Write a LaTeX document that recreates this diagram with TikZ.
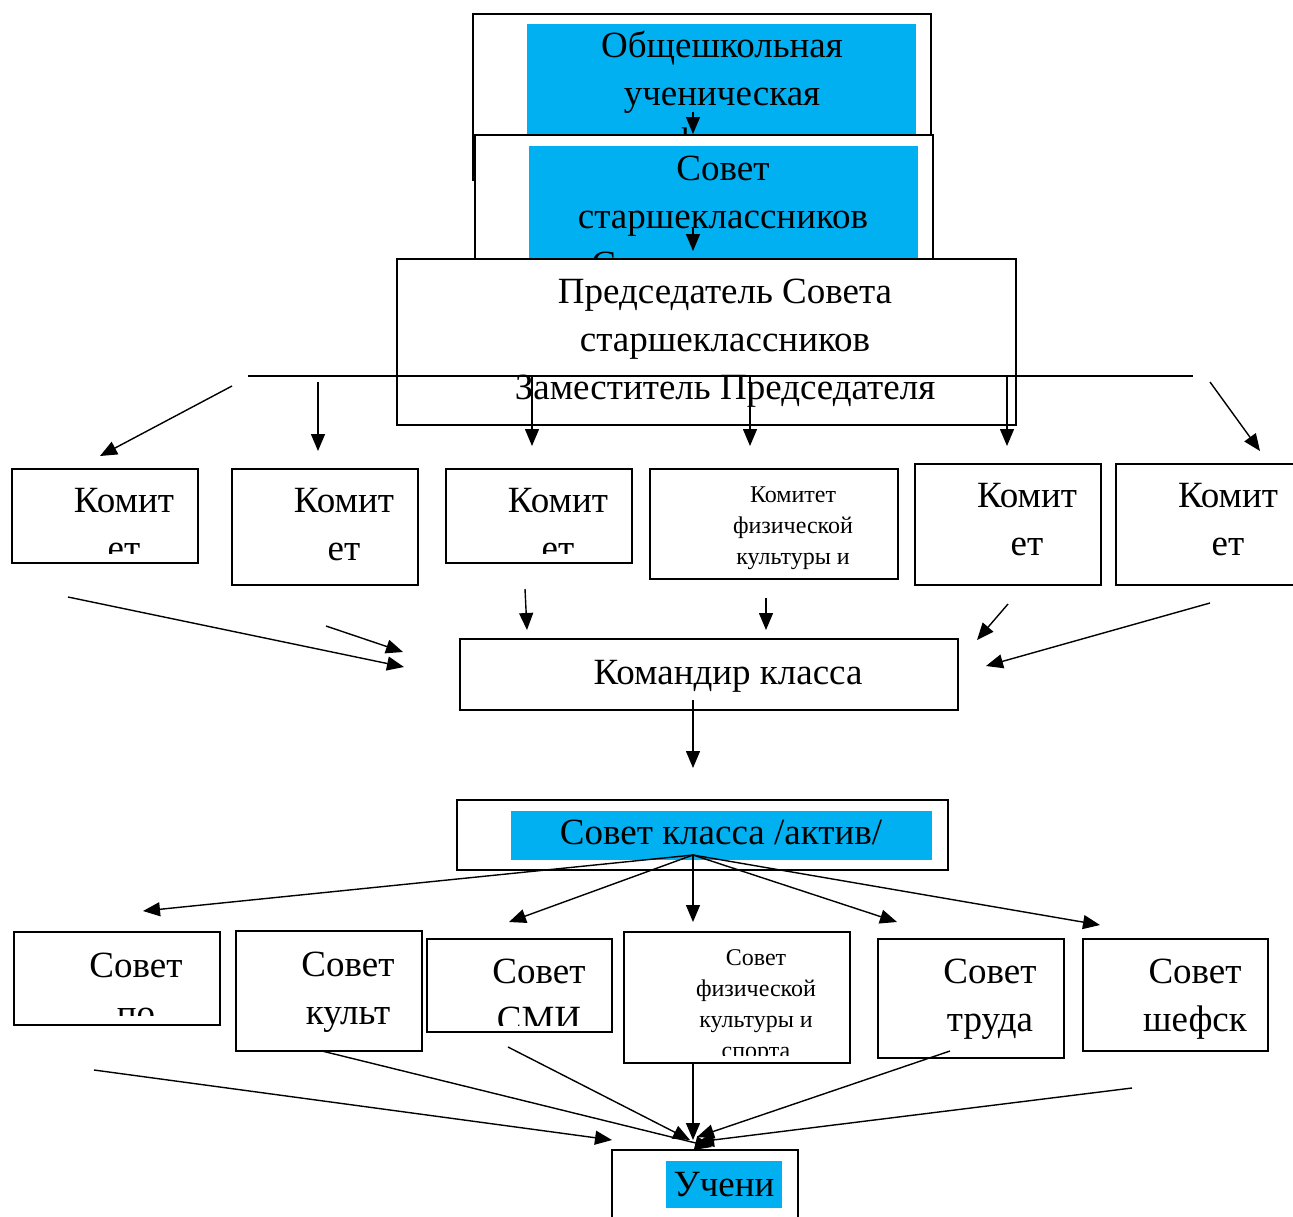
\documentclass[tikz,border=0pt]{standalone}
\usepackage{fontspec}
\setmainfont{Liberation Serif}
\usetikzlibrary{arrows.meta,fit}
\definecolor{barblue}{RGB}{0,176,240}
\tikzset{
  box/.style={draw,line width=1.4pt,fill=white,inner sep=0pt},
  bar/.style={fill=barblue,inner sep=0pt},
  big/.style={anchor=base,inner sep=0pt,font=\fontsize{37}{48}\selectfont},
  small/.style={anchor=base,inner sep=0pt,font=\fontsize{24}{31}\selectfont},
  arr/.style={line width=1.4pt,-{Triangle[length=17pt,width=14pt]}}
}
\begin{document}
\begin{tikzpicture}[x=1pt,y=-1pt]
  \useasboundingbox [fill=white] (0,0) rectangle (1293,1216);
  % top block
  \node [box,fit={(473,14) (931,180)}] (obsh) {};
  \node [bar,fit={(527,24) (916,135)}] (obshbar) {};
  \node [big] (obsh1) at (722,57) {Общешкольная};
  \node [big] (obsh2) at (722,105) {ученическая};
  \node [big] (obsh3) at (722,153) {конференция};
  \coordinate (obshs) at (693,112);
  \coordinate (obshe) at (693,134);
  \draw [arr] (obshs) -- (obshe);
  \node [box,fit={(475,135) (933,275)}] (sovst) {};
  \node [bar,fit={(529,146) (918,275)}] (sovstbar) {};
  \node [big] (sovst1) at (723,180) {Совет};
  \node [big] (sovst2) at (723,228) {старшеклассников};
  \node [big] (sovst3) at (723,276) {Самоуправления};
  \coordinate (sovsts) at (693,228);
  \coordinate (sovste) at (693,251);
  \draw [arr] (sovsts) -- (sovste);
  \node [box,fit={(397,259) (1016,425)}] (pred) {};
  \node [big] (pred1) at (725,303) {Председатель Совета};
  \node [big] (pred2) at (725,351) {старшеклассников};
  \node [big] (pred3) at (725,399) {Заместитель Председателя};
  \coordinate (hl) at (248,376);
  \coordinate (hr) at (1193,376);
  \draw [line width=1.4pt] (hl) -- (hr);
  % arrows to the committees
  \coordinate (a1s) at (232,386);  \coordinate (a1e) at (100,456);
  \coordinate (a2s) at (318,382);  \coordinate (a2e) at (318,451);
  \coordinate (a3s) at (532,376);  \coordinate (a3e) at (532,446);
  \coordinate (a4s) at (750,376);  \coordinate (a4e) at (750,446);
  \coordinate (a5s) at (1007,376); \coordinate (a5e) at (1007,446);
  \coordinate (a6s) at (1210,382); \coordinate (a6e) at (1260,451);
  \foreach \i in {1,...,6}
    \draw [arr] (a\i s) -- (a\i e);
  % committees
  \node [box,fit={(12,469) (198,563)}] (kom1) {};
  \node [box,fit={(232,469) (418,585)}] (kom2) {};
  \node [box,fit={(446,469) (632,563)}] (kom3) {};
  \node [box,fit={(650,469) (898,579)}] (kom4) {};
  \node [box,fit={(915,464) (1101,585)}] (kom5) {};
  \node [box,fit={(1116,464) (1298,585)}] (kom6) {};
  \begin{scope}
    \clip (14,471) rectangle (196,553);
    \node [big] (kom1a) at (124,512) {Комит};
    \node [big] (kom1b) at (124,560) {ет};
  \end{scope}
  \node [big] (kom2a) at (344,512) {Комит};
  \node [big] (kom2b) at (344,560) {ет};
  \begin{scope}
    \clip (448,471) rectangle (630,553);
    \node [big] (kom3a) at (558,512) {Комит};
    \node [big] (kom3b) at (558,560) {ет};
  \end{scope}
  \node [small] (kom4a) at (793,502) {Комитет};
  \node [small] (kom4b) at (793,533) {физической};
  \node [small] (kom4c) at (793,564) {культуры и};
  \node [big] (kom5a) at (1027,507) {Комит};
  \node [big] (kom5b) at (1027,555) {ет};
  \node [big] (kom6a) at (1228,507) {Комит};
  \node [big] (kom6b) at (1228,555) {ет};
  % arrows to the class commander
  \coordinate (b1s) at (68,597);   \coordinate (b1e) at (404,667);
  \coordinate (b2s) at (326,626);  \coordinate (b2e) at (403,652);
  \coordinate (b3s) at (525,589);  \coordinate (b3e) at (527,630);
  \coordinate (b4s) at (766,598);  \coordinate (b4e) at (766,630);
  \coordinate (b5s) at (1008,604); \coordinate (b5e) at (977,640);
  \coordinate (b6s) at (1210,603); \coordinate (b6e) at (986,666);
  \foreach \i in {1,...,6}
    \draw [arr] (b\i s) -- (b\i e);
  \node [box,fit={(460,639) (958,710)}] (kom) {};
  \node [big] (kom0) at (728,684) {Командир класса};
  \coordinate (koms) at (693,700);
  \coordinate (kome) at (693,768);
  \draw [arr] (koms) -- (kome);
  % class council
  \node [box,fit={(457,800) (948,870)}] (skl) {};
  \node [bar,fit={(511,811) (932,860)}] (sklbar) {};
  \node [big] (skl0) at (721,844) {Совет класса /актив/};
  \coordinate (fan) at (693,855);
  \coordinate (c1e) at (143,911);
  \coordinate (c2e) at (509,922);
  \coordinate (c3e) at (693,922);
  \coordinate (c4e) at (897,922);
  \coordinate (c5e) at (1100,925);
  \foreach \i in {1,...,5}
    \draw [arr] (fan) -- (c\i e);
  % councils
  \node [box,fit={(14,932) (220,1025)}] (sov1) {};
  \node [box,fit={(236,931) (422,1051)}] (sov2) {};
  \node [box,fit={(427,939) (612,1032)}] (sov3) {};
  \node [box,fit={(624,932) (850,1063)}] (sov4) {};
  \node [box,fit={(878,939) (1064,1058)}] (sov5) {};
  \node [box,fit={(1083,939) (1268,1051)}] (sov6) {};
  \begin{scope}
    \clip (16,934) rectangle (218,1015);
    \node [big] (sov1a) at (136,977) {Совет};
    \node [big] (sov1b) at (136,1025) {по};
  \end{scope}
  \node [big] (sov2a) at (348,976) {Совет};
  \node [big] (sov2b) at (348,1024) {культ};
  \begin{scope}
    \clip (429,941) rectangle (610,1025);
    \node [big] (sov3a) at (539,983) {Совет};
    \node [big] (sov3b) at (539,1031) {СМИ};
  \end{scope}
  \begin{scope}
    \clip (626,934) rectangle (848,1055);
    \node [small] (sov4a) at (756,965) {Совет};
    \node [small] (sov4b) at (756,996) {физической};
    \node [small] (sov4c) at (756,1027) {культуры и};
    \node [small] (sov4d) at (756,1058) {спорта};
  \end{scope}
  \node [big] (sov5a) at (990,983) {Совет};
  \node [big] (sov5b) at (990,1031) {труда};
  \node [big] (sov6a) at (1195,983) {Совет};
  \node [big] (sov6b) at (1195,1031) {шефск};
  % arrows to the pupils
  \coordinate (d1s) at (94,1070);   \coordinate (d1e) at (612,1140);
  \coordinate (d2s) at (322,1051);  \coordinate (d2e) at (712,1147);
  \coordinate (d3s) at (508,1047);  \coordinate (d3e) at (690,1140);
  \coordinate (d4s) at (693,1063);  \coordinate (d4e) at (693,1140);
  \coordinate (d5s) at (950,1051);  \coordinate (d5e) at (697,1137);
  \coordinate (d6s) at (1132,1088); \coordinate (d6e) at (697,1142);
  \foreach \i in {1,...,6}
    \draw [arr] (d\i s) -- (d\i e);
  \node [box,fit={(612,1150) (798,1230)}] (uch) {};
  \node [bar,fit={(666,1161) (782,1208)}] (uchbar) {};
  \node [big] (uch0) at (724,1196) {Учени};
\end{tikzpicture}
\end{document}
